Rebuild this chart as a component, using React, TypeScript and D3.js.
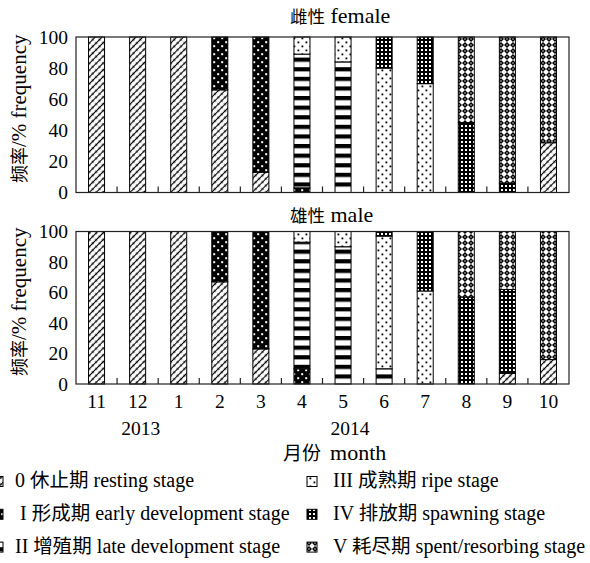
import React from 'react';
import * as d3 from 'd3';

const months = ['11', '12', '1', '2', '3', '4', '5', '6', '7', '8', '9', '10'];
const stageKeys = ['s0', 's1', 's2', 's3', 's4', 's5'];

// female (雌性) percentages per stage
const femaleResting = [100, 100, 100, 66, 13, 0, 0, 0, 0, 0, 0, 32];
const femaleEarly = [0, 0, 0, 34, 87, 3, 0, 0, 0, 0, 0, 0];
const femaleLate = [0, 0, 0, 0, 0, 86, 84, 0, 0, 0, 0, 0];
const femaleRipe = [0, 0, 0, 0, 0, 11, 16, 80, 70, 0, 0, 0];
const femaleSpawning = [0, 0, 0, 0, 0, 0, 0, 20, 30, 45, 6, 0];
const femaleSpent = [0, 0, 0, 0, 0, 0, 0, 0, 0, 55, 94, 68];

// male (雄性) percentages per stage
const maleResting = [100, 100, 100, 67, 23, 0, 0, 0, 0, 0, 7, 16];
const maleEarly = [0, 0, 0, 33, 77, 10, 0, 0, 0, 0, 0, 0];
const maleLate = [0, 0, 0, 0, 0, 83, 90, 10, 0, 0, 0, 0];
const maleRipe = [0, 0, 0, 0, 0, 7, 10, 87, 61, 0, 0, 0];
const maleSpawning = [0, 0, 0, 0, 0, 0, 0, 3, 39, 57, 55, 0];
const maleSpent = [0, 0, 0, 0, 0, 0, 0, 0, 0, 43, 38, 84];

const yTicks = [0, 20, 40, 60, 80, 100];
const yearLabels = ['2013', '2014'];
const legendNumerals = ['0', ' I', 'II', 'III', 'IV', 'V'];
const legendChinese = ['休止期', '形成期', '增殖期', '成熟期', '排放期', '耗尽期'];
const legendEnglish = [
  'resting stage',
  'early development stage',
  'late development stage',
  'ripe stage',
  'spawning stage',
  'spent/resorbing stage',
];

const FONT = "'Liberation Serif', 'Times New Roman', 'Noto Sans CJK SC', serif";
const CJK = "'Noto Sans CJK SC', 'Liberation Serif', serif";

function buildRows(series: number[][]) {
  return months.map((m, i) => {
    const r: any = { month: m };
    stageKeys.forEach((k, j) => (r[k] = series[j][i]));
    return r;
  });
}

const panels = [
  {
    zh: '雌性',
    en: 'female',
    rows: buildRows([femaleResting, femaleEarly, femaleLate, femaleRipe, femaleSpawning, femaleSpent]),
    top: 37,
    bottom: 192.5,
    titleY: 23,
  },
  {
    zh: '雄性',
    en: 'male',
    rows: buildRows([maleResting, maleEarly, maleLate, maleRipe, maleSpawning, maleSpent]),
    top: 231.5,
    bottom: 384,
    titleY: 222,
  },
];

const X0 = 76;
const X1 = 569;

export default function App() {
  const x = d3.scaleBand<string>().domain(months).range([X0, X1]).paddingInner(0.61).paddingOuter(0.305);
  const step = x.step();
  const stack = d3.stack<any>().keys(stageKeys);

  return (
    <svg
      width={590}
      height={563}
      style={{ position: 'absolute', left: 0, top: 0, background: '#fff' }}
      fontFamily={FONT}
    >
      <defs>
        <pattern id="p0" width="4.8" height="4.8" patternUnits="userSpaceOnUse" patternTransform="rotate(45)">
          <rect width="4.8" height="4.8" fill="#fff" />
          <line x1="2.4" y1="0" x2="2.4" y2="4.8" stroke="#000" strokeWidth="1.1" />
          <rect x="1.5" y="0" width="1.8" height="1.6" fill="#000" />
        </pattern>
        <pattern id="p1" width="8" height="8" patternUnits="userSpaceOnUse">
          <rect width="8" height="8" fill="#000" />
          <rect x="1.2" y="1.2" width="2" height="2" fill="#fff" />
          <rect x="5.2" y="5.2" width="2" height="2" fill="#fff" />
        </pattern>
        <pattern id="p2" width="9.6" height="9.6" patternUnits="userSpaceOnUse">
          <rect width="9.6" height="9.6" fill="#fff" />
          <rect x="0" y="0" width="9.6" height="4.2" fill="#000" />
        </pattern>
        <pattern id="p3" width="8" height="8" patternUnits="userSpaceOnUse">
          <rect width="8" height="8" fill="#fff" />
          <rect x="1.5" y="1.5" width="1.8" height="1.8" fill="#000" />
          <rect x="5.5" y="5.5" width="1.8" height="1.8" fill="#000" />
        </pattern>
        <pattern id="p4" width="4" height="4" patternUnits="userSpaceOnUse">
          <rect width="4" height="4" fill="#000" />
          <rect x="1" y="1" width="2" height="2" fill="#fff" />
        </pattern>
        <pattern id="p5" width="6" height="6" patternUnits="userSpaceOnUse">
          <rect width="6" height="6" fill="#fff" />
          <polygon points="3,0 6,3 3,6 0,3" fill="#000" />
          <rect x="2.4" y="2.4" width="1.2" height="1.2" fill="#fff" />
        </pattern>
      </defs>

      {panels.map((p, pi) => {
        const y = d3.scaleLinear().domain([0, 100]).range([p.bottom, p.top]);
        const series = stack(p.rows);
        const midY = (p.top + p.bottom) / 2 - 6;
        return (
          <g key={pi}>
            {/* title */}
            <text x={290} y={p.titleY} fontSize={22} fill="#000">
              <tspan fontFamily={CJK} fontSize={17.5}>{p.zh}</tspan>
              <tspan> {p.en}</tspan>
            </text>
            {/* y-axis label */}
            <text
              transform={`translate(26,${midY}) rotate(-90)`}
              textAnchor="middle"
              fontSize={21}
              fill="#000"
            >
              <tspan fontFamily={CJK} fontSize={18}>频率</tspan>
              <tspan>/% frequency</tspan>
            </text>
            {/* bars */}
            {series.map((s, si) => (
              <g key={si} fill={`url(#p${si})`}>
                {s.map((d, di) =>
                  d[1] - d[0] > 0 ? (
                    <rect
                      key={di}
                      x={x(d.data.month)}
                      y={y(d[1])}
                      width={x.bandwidth()}
                      height={y(d[0]) - y(d[1])}
                      stroke="#000"
                      strokeWidth={1}
                    />
                  ) : null
                )}
              </g>
            ))}
            {/* frame */}
            <rect x={X0} y={p.top} width={X1 - X0} height={p.bottom - p.top} fill="none" stroke="#222" strokeWidth={1.2} />
            {/* x ticks (inward, at band boundaries) */}
            {months.slice(1).map((m, i) => {
              const tx = X0 + step * (i + 1);
              return <line key={m} x1={tx} x2={tx} y1={p.bottom} y2={p.bottom - 6} stroke="#222" strokeWidth={1.2} />;
            })}
            {/* y tick labels */}
            {yTicks.map((t) => (
              <text key={t} x={68} y={y(t) + 6.5} textAnchor="end" fontSize={19.5} fill="#000">
                {t}
              </text>
            ))}
          </g>
        );
      })}

      {/* x tick labels */}
      {months.map((m) => (
        <text key={m} x={(x(m) as number) + x.bandwidth() / 2} y={408} textAnchor="middle" fontSize={19.5} fill="#000">
          {m}
        </text>
      ))}
      {/* years */}
      <text x={(x('12') as number) + x.bandwidth() / 2 + 3} y={435} textAnchor="middle" fontSize={19.5} fill="#000">
        {yearLabels[0]}
      </text>
      <text x={(x('5') as number) + x.bandwidth() / 2 + 7} y={435} textAnchor="middle" fontSize={19.5} fill="#000">
        {yearLabels[1]}
      </text>
      {/* x-axis title */}
      <text x={283} y={460} fontSize={22} fill="#000">
        <tspan fontFamily={CJK} fontSize={19}>月份</tspan>
        <tspan dx={9}>month</tspan>
      </text>

      {/* legend */}
      {stageKeys.map((k, i) => {
        const col = i < 3 ? 0 : 1;
        const row = i % 3;
        const baseY = 487 + row * 32.8;
        const swX = col === 0 ? -7 : 307;
        const txX = col === 0 ? 15 : 333;
        return (
          <g key={k}>
            <rect x={swX} y={baseY - 10.5} width={10} height={10} fill={`url(#p${i})`} stroke="#000" strokeWidth={1} />
            <text x={txX} y={baseY} fontSize={20} fill="#000" xmlSpace="preserve">
              <tspan>{legendNumerals[i]} </tspan>
              <tspan fontFamily={CJK} fontSize={19.5}>{legendChinese[i]}</tspan>
              <tspan> {legendEnglish[i]}</tspan>
            </text>
          </g>
        );
      })}
    </svg>
  );
}
